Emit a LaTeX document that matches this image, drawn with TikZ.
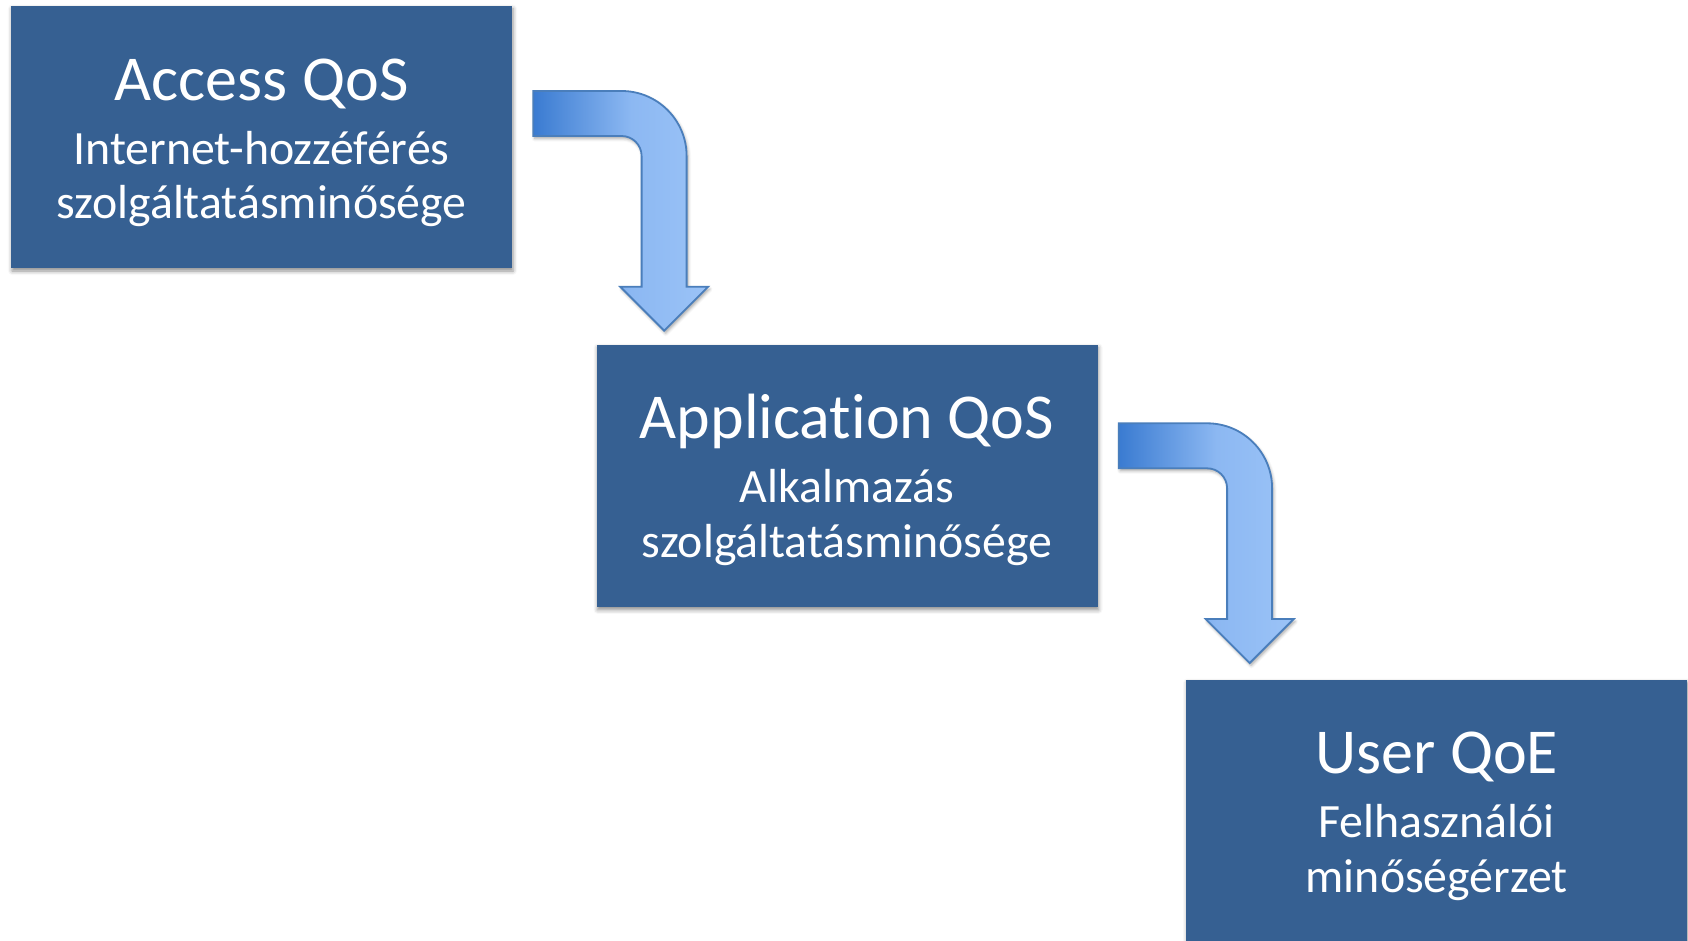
\documentclass[tikz,border=0pt]{standalone}
\usepackage{fontspec}
\setmainfont{Carlito}[Ligatures={NoCommon}]
\usetikzlibrary{calc,shadows.blur}

\definecolor{boxblue}{HTML}{366092}
\definecolor{arrowline}{HTML}{4A7EBB}
\definecolor{shadeA}{HTML}{3A7BD1}
\definecolor{shadeB}{HTML}{8CB8F2}
\definecolor{shadeC}{HTML}{9BC3F7}
\pgfdeclarehorizontalshading{arrowshade}{100bp}{color(0bp)=(shadeA); color(25bp)=(shadeA); color(53bp)=(shadeB); color(75bp)=(shadeC); color(100bp)=(shadeC)}

\begin{document}
\begin{tikzpicture}[x=1pt, y=-1pt,
  qbox/.style={fill=boxblue, minimum width=501pt, minimum height=262.4pt,
    inner sep=0pt, anchor=north west,
    blur shadow={shadow xshift=1pt, shadow yshift=-3pt, shadow opacity=45, shadow blur radius=4pt}},
  qtext/.style={text=white, align=center, anchor=base,
    font=\fontsize{47.8}{54.4}\selectfont},
  bentarrow/.style={draw=arrowline, line width=1.8pt, line join=miter,
    shade, shading=arrowshade,
    blur shadow={shadow xshift=1.5pt, shadow yshift=-2.5pt, shadow opacity=35, shadow blur radius=3pt}}
]
\useasboundingbox (0,0) rectangle (1688,940);

% the three quality layers
\node[qbox] (b1) at (10.8,5.4) {};
\node[qbox] (b2) at (596.3,344.3) {};
\node[qbox] (b3) at (1186,679.3) {};

% texts, anchored on the baseline of their last line
\node[qtext] (t1) at ($(b1.north)+(0,213)$)
  {{\fontsize{64}{64}\selectfont Access QoS}\\[9.6pt]Internet-hozzéférés\\szolgáltatásminősége};
\node[qtext] (t2) at ($(b2.north)+(0,213)$)
  {{\fontsize{64}{64}\selectfont Application QoS}\\[9.6pt]Alkalmazás\\szolgáltatásminősége};
\node[qtext] (t3) at ($(b3.north)+(0,213)$)
  {{\fontsize{64}{64}\selectfont User QoE}\\[9.6pt]Felhasználói\\minőségérzet};

% bent block arrows leading down to the next layer
\foreach \src/\dy in {b1/85.6, b2/79} {
  \path[bentarrow, shift={($(\src.north east)+(21,\dy)$)}]
    (0,0) -- (88.4,0) arc[start angle=-90, end angle=0, radius=65]
    -- (153.4,195.7) -- (175,195.7) -- (131,239.7) -- (87,195.7)
    -- (108.4,195.7) -- (108.4,65) arc[start angle=0, end angle=-90, radius=20]
    -- (0,45) -- cycle;
}
\end{tikzpicture}
\end{document}
